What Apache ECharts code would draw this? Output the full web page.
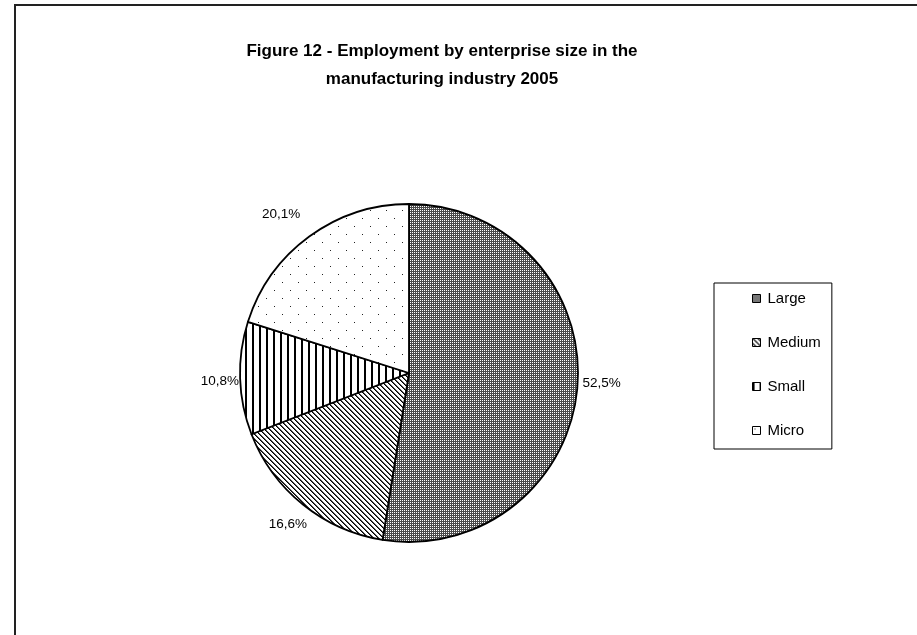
<!DOCTYPE html>
<html>
<head>
<meta charset="utf-8">
<script src="https://cdn.jsdelivr.net/npm/echarts@6/dist/echarts.min.js"></script>
<style>
html,body{margin:0;padding:0;background:#fff;}
#chart{width:917px;height:635px;}
</style>
</head>
<body>
<div id="chart"></div>
<script>
const titleLines = ['Figure 12 - Employment by enterprise size in the', 'manufacturing industry 2005'];
const categories = ['Large', 'Medium', 'Small', 'Micro'];
const values = [52.5, 16.6, 10.8, 20.1];
// small per-slice label nudges (style only), mimicking the original's label placement
const labelNudges = [[0, -3], [9, 20], [4, 3], [-4, -22]];

function makePattern(w, h, draw) {
  const c = document.createElement('canvas');
  c.width = w; c.height = h;
  const ctx = c.getContext('2d');
  ctx.fillStyle = '#fff';
  ctx.fillRect(0, 0, w, h);
  draw(ctx);
  return { image: c, repeat: 'repeat' };
}
const patterns = [
  // Large: fine gray grid with white dots
  makePattern(2, 2, ctx => {
    ctx.fillStyle = '#4a4a4a';
    ctx.fillRect(0, 0, 2, 2);
    ctx.fillStyle = '#fff';
    ctx.fillRect(0, 0, 1, 1);
  }),
  // Medium: diagonal stripes (backslash)
  makePattern(5, 5, ctx => {
    for (let i = 0; i < 5; i++) {
      ctx.fillStyle = '#000';
      ctx.fillRect(i, i, 1, 1);
      ctx.fillStyle = '#555';
      ctx.fillRect((i + 1) % 5, i, 1, 1);
    }
  }),
  // Small: vertical stripes
  makePattern(7, 7, ctx => {
    ctx.fillStyle = '#000';
    ctx.fillRect(0, 0, 2, 7);
  }),
  // Micro: sparse dots
  makePattern(16, 16, ctx => {
    ctx.fillStyle = '#222';
    ctx.fillRect(2, 2, 1, 1);
    ctx.fillRect(10, 10, 1, 1);
  })
];

const chart = echarts.init(document.getElementById('chart'), null, { renderer: 'canvas' });
const font = '"Liberation Sans", Arial, sans-serif';

chart.setOption({
  animation: false,
  backgroundColor: '#fff',
  graphic: [
    {
      type: 'rect',
      shape: { x: 15, y: 5, width: 1000, height: 1000 },
      style: { fill: 'none', stroke: '#222', lineWidth: 2 },
      silent: true, z: 0
    },
    {
      type: 'text', x: 442, y: 43,
      style: { text: titleLines[0], font: 'bold 17px ' + font, fill: '#000', textAlign: 'center', textVerticalAlign: 'top' }
    },
    {
      type: 'text', x: 442, y: 71,
      style: { text: titleLines[1], font: 'bold 17px ' + font, fill: '#000', textAlign: 'center', textVerticalAlign: 'top' }
    }
  ],
  legend: {
    orient: 'vertical',
    left: 714,
    top: 283,
    data: categories,
    icon: 'rect',
    itemWidth: 8,
    itemHeight: 8,
    itemGap: 29,
    padding: [8, 11, 11, 38],
    borderColor: '#000',
    borderWidth: 1,
    borderRadius: 0,
    textStyle: { fontFamily: font, fontSize: 15, lineHeight: 14, color: '#000', padding: [0, 0, 0, 2] },
    itemStyle: { borderColor: '#000', borderWidth: 1 }
  },
  series: [{
    type: 'pie',
    center: [409, 373],
    radius: 169,
    startAngle: 90,
    clockwise: true,
    avoidLabelOverlap: false,
    data: categories.map((c, i) => ({
      name: c,
      value: values[i],
      itemStyle: { color: patterns[i] },
      label: { offset: labelNudges[i] }
    })),
    itemStyle: { borderColor: '#000', borderWidth: 1.8 },
    label: {
      show: true,
      position: 'outside',
      fontFamily: font,
      fontSize: 13.5,
      color: '#000',
      formatter: p => p.value.toFixed(1).replace('.', ',') + '%'
    },
    labelLine: { show: false, length: 0, length2: 0 },
    emphasis: { disabled: true }
  }]
});
</script>
</body>
</html>
